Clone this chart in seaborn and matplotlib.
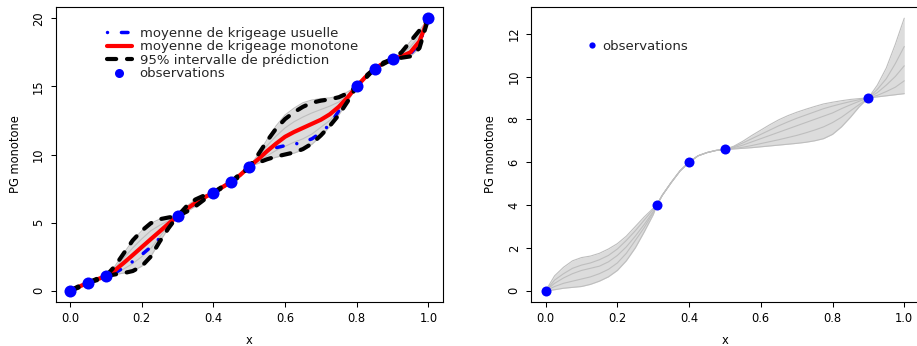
import seaborn as sns
import matplotlib
matplotlib.use("Agg")
import matplotlib.pyplot as plt
from matplotlib.lines import Line2D

sns.set_theme(style="ticks")
plt.rcParams['font.family'] = ['DejaVu Sans']

# ---- left panel : monotone kriging ----
x_left = [0.0, 0.025, 0.05, 0.075, 0.1, 0.125, 0.15, 0.175, 0.2, 0.225, 0.25, 0.275, 0.3, 0.325,
          0.35, 0.375, 0.4, 0.425, 0.45, 0.475, 0.5, 0.525, 0.55, 0.575, 0.6, 0.625, 0.65, 0.675,
          0.7, 0.725, 0.75, 0.775, 0.8, 0.825, 0.85, 0.875, 0.9, 0.925, 0.95, 0.975, 1.0]
mean_mono = [0.0, 0.3, 0.59, 0.83, 1.08, 1.5, 2.05, 2.62, 3.2, 3.78, 4.35, 4.93, 5.48, 6.0, 6.45,
             6.85, 7.2, 7.6, 8.0, 8.5, 9.1, 9.65, 10.25, 10.8, 11.3, 11.65, 11.95, 12.25, 12.55,
             12.95, 13.5, 14.2, 15.0, 15.7, 16.3, 16.7, 17.0, 17.2, 17.5, 18.3, 20.0]
mean_usual = [0.0, 0.3, 0.59, 0.83, 1.08, 1.3, 1.7, 2.15, 2.65, 3.2, 3.85, 4.65, 5.48, 5.98, 6.42,
              6.83, 7.2, 7.6, 8.0, 8.5, 9.1, 9.75, 10.2, 10.5, 10.65, 10.75, 10.9, 11.15, 11.6,
              12.2, 13.2, 14.2, 15.0, 15.7, 16.3, 16.7, 17.0, 17.15, 17.4, 18.1, 20.0]
upper = [0.0, 0.35, 0.59, 0.88, 1.08, 1.8, 2.75, 3.7, 4.4, 4.95, 5.25, 5.38, 5.48, 6.2, 6.7, 7.0,
         7.2, 7.65, 8.0, 8.6, 9.1, 10.0, 11.0, 11.9, 12.6, 13.1, 13.5, 13.8, 13.95, 14.05, 14.2,
         14.5, 15.0, 15.75, 16.3, 16.75, 17.0, 17.5, 18.3, 19.1, 20.0]
lower = [0.0, 0.25, 0.59, 0.78, 1.08, 1.2, 1.3, 1.45, 1.8, 2.5, 3.6, 4.6, 5.48, 5.8, 6.2, 6.7,
         7.2, 7.55, 8.0, 8.4, 9.1, 9.4, 9.65, 9.85, 10.0, 10.15, 10.4, 10.8, 11.4, 12.1, 12.9,
         13.9, 15.0, 15.6, 16.3, 16.65, 17.0, 17.1, 17.2, 17.8, 20.0]
# envelope and a few of the simulated sample paths (grey)
grey_hi = [0.0, 0.35, 0.59, 0.88, 1.08, 1.8, 2.75, 3.7, 4.4, 4.95, 5.25, 5.38, 5.48, 6.2, 6.7, 7.0,
           7.2, 7.65, 8.0, 8.6, 9.1, 10.0, 11.1, 12.1, 12.9, 13.4, 13.8, 14.0, 14.1, 14.15, 14.3,
           14.6, 15.0, 15.75, 16.3, 16.75, 17.0, 17.5, 18.3, 19.1, 20.0]
grey_lo = [0.0, 0.25, 0.59, 0.78, 1.08, 1.2, 1.3, 1.45, 1.8, 2.5, 3.6, 4.6, 5.48, 5.8, 6.2, 6.7,
           7.2, 7.55, 8.0, 8.4, 9.1, 9.35, 9.6, 9.8, 9.95, 10.1, 10.35, 10.75, 11.35, 12.05, 12.9,
           13.9, 15.0, 15.6, 16.3, 16.65, 17.0, 17.1, 17.2, 17.8, 20.0]
path_l1 = [0.0, 0.32, 0.59, 0.85, 1.08, 1.65, 2.4, 3.15, 3.8, 4.4, 4.8, 5.15, 5.48, 6.1, 6.55, 6.9,
           7.2, 7.6, 8.0, 8.55, 9.1, 9.85, 10.65, 11.35, 11.95, 12.4, 12.75, 13.05, 13.3, 13.55,
           13.85, 14.35, 15.0, 15.72, 16.3, 16.72, 17.0, 17.35, 17.9, 18.7, 20.0]
path_l2 = [0.0, 0.28, 0.59, 0.8, 1.08, 1.3, 1.6, 2.0, 2.5, 3.1, 3.95, 4.8, 5.48, 5.9, 6.3, 6.75,
           7.2, 7.58, 8.0, 8.45, 9.1, 9.5, 9.9, 10.3, 10.6, 10.9, 11.15, 11.5, 12.0, 12.5, 13.2,
           14.05, 15.0, 15.65, 16.3, 16.68, 17.0, 17.15, 17.35, 18.0, 20.0]
obs_x_left = [0.0, 0.05, 0.1, 0.3, 0.4, 0.45, 0.5, 0.8, 0.85, 0.9, 1.0]
obs_y_left = [0.0, 0.59, 1.08, 5.48, 7.2, 8.0, 9.1, 15.0, 16.3, 17.0, 20.0]

# ---- right panel : sample paths only ----
x_right = [0.0, 0.025, 0.05, 0.075, 0.1, 0.125, 0.15, 0.175, 0.2, 0.225, 0.25, 0.275, 0.3, 0.31,
           0.325, 0.35, 0.375, 0.4, 0.425, 0.45, 0.475, 0.5, 0.525, 0.55, 0.575, 0.6, 0.625, 0.65,
           0.675, 0.7, 0.725, 0.75, 0.775, 0.8, 0.825, 0.85, 0.875, 0.9, 0.925, 0.95, 0.975, 1.0]
r_hi = [0.0, 0.7, 1.1, 1.4, 1.55, 1.62, 1.75, 1.95, 2.2, 2.55, 3.0, 3.45, 3.85, 4.0, 4.45, 5.05,
        5.6, 6.0, 6.3, 6.45, 6.55, 6.6, 6.75, 6.98, 7.25, 7.5, 7.75, 7.98, 8.17, 8.33, 8.47, 8.6,
        8.72, 8.8, 8.87, 8.93, 8.97, 9.0, 9.6, 10.4, 11.5, 12.72]
r_lo = [0.0, 0.05, 0.12, 0.16, 0.2, 0.3, 0.45, 0.65, 0.95, 1.4, 2.0, 2.75, 3.55, 4.0, 4.45, 5.05,
        5.6, 6.0, 6.3, 6.45, 6.55, 6.6, 6.62, 6.65, 6.68, 6.72, 6.76, 6.8, 6.84, 6.88, 6.93, 7.0,
        7.1, 7.3, 7.65, 8.1, 8.6, 9.0, 9.05, 9.1, 9.15, 9.2]
path_r1 = [0.0, 0.5, 0.8, 1.05, 1.2, 1.3, 1.45, 1.65, 1.95, 2.35, 2.8, 3.3, 3.8, 4.0, 4.45, 5.05,
           5.6, 6.0, 6.3, 6.45, 6.55, 6.6, 6.72, 6.9, 7.1, 7.3, 7.5, 7.7, 7.88, 8.05, 8.2, 8.35,
           8.5, 8.62, 8.73, 8.83, 8.92, 9.0, 9.4, 9.9, 10.6, 11.4]
path_r2 = [0.0, 0.35, 0.6, 0.8, 0.95, 1.05, 1.15, 1.35, 1.65, 2.05, 2.55, 3.1, 3.7, 4.0, 4.45, 5.05,
           5.6, 6.0, 6.3, 6.45, 6.55, 6.6, 6.68, 6.8, 6.95, 7.1, 7.25, 7.4, 7.55, 7.7, 7.85, 8.0,
           8.15, 8.3, 8.5, 8.68, 8.85, 9.0, 9.25, 9.6, 10.0, 10.5]
path_r3 = [0.0, 0.2, 0.35, 0.45, 0.55, 0.65, 0.8, 1.0, 1.3, 1.75, 2.35, 2.95, 3.65, 4.0, 4.45, 5.05,
           5.6, 6.0, 6.3, 6.45, 6.55, 6.6, 6.64, 6.7, 6.78, 6.87, 6.96, 7.05, 7.15, 7.25, 7.37, 7.5,
           7.65, 7.85, 8.1, 8.4, 8.7, 9.0, 9.12, 9.3, 9.5, 9.8]
obs_x_right = [0.0, 0.31, 0.4, 0.5, 0.9]
obs_y_right = [0.0, 4.0, 6.0, 6.6, 9.0]

GREY = '#bebebe'
FILL = '#dcdcdc'

fig = plt.figure(figsize=(9.17, 3.46), dpi=100)
ax1 = fig.add_axes([55.7 / 917, 44.3 / 346, 387 / 917, 294.4 / 346])
ax2 = fig.add_axes([531.3 / 917, 44.3 / 346, 387.3 / 917, 294.4 / 346])

# left
ax1.fill_between(x_left, grey_lo, grey_hi, color=FILL, lw=0, zorder=1)
for p in [grey_hi, grey_lo, path_l1, path_l2]:
    sns.lineplot(x=x_left, y=p, ax=ax1, color=GREY, lw=0.8, sort=False, estimator=None, zorder=1.5)
sns.lineplot(x=x_left, y=mean_usual, ax=ax1, color='blue', lw=2.5, sort=False, estimator=None,
             linestyle=(0, (0.01, 4.0, 1.9, 4.0)), dash_capstyle='round', zorder=2)
sns.lineplot(x=x_left, y=mean_mono, ax=ax1, color='red', lw=3, sort=False, estimator=None, zorder=3)
for b in [upper, lower]:
    sns.lineplot(x=x_left, y=b, ax=ax1, color='black', lw=3, sort=False, estimator=None,
                 linestyle=(0, (2.2, 2.6)), dash_capstyle='round', zorder=4)
sns.scatterplot(x=obs_x_left, y=obs_y_left, ax=ax1, color='blue', s=75, linewidth=0, zorder=5)

handles = [
    Line2D([], [], color='blue', lw=2.5, linestyle=(0, (0.01, 4.0, 1.9, 4.0)), dash_capstyle='round'),
    Line2D([], [], color='red', lw=3),
    Line2D([], [], color='black', lw=3, linestyle=(0, (2.2, 2.6)), dash_capstyle='round'),
    Line2D([], [], color='blue', lw=0, marker='o', markersize=6.5, markeredgewidth=0),
]
labels = ['moyenne de krigeage usuelle', 'moyenne de krigeage monotone',
          '95% intervalle de prédiction', 'observations']
ax1.legend(handles, labels, loc='upper left', bbox_to_anchor=(107 / 917, 1 - 26.5 / 346),
           bbox_transform=fig.transFigure, frameon=False, fontsize=9.5, borderpad=0,
           borderaxespad=0, handlelength=1.88, handletextpad=0.6, labelspacing=0.05)

# right
ax2.fill_between(x_right, r_lo, r_hi, color=FILL, lw=0, zorder=1)
for p in [r_hi, r_lo, path_r1, path_r2, path_r3]:
    sns.lineplot(x=x_right, y=p, ax=ax2, color=GREY, lw=0.8, sort=False, estimator=None, zorder=1.5)
sns.scatterplot(x=obs_x_right, y=obs_y_right, ax=ax2, color='blue', s=52, linewidth=0, zorder=5)
ax2.legend([Line2D([], [], color='blue', lw=0, marker='o', markersize=4.5, markeredgewidth=0)],
           ['observations'], loc='upper left', bbox_to_anchor=(586.7 / 917, 1 - 40 / 346),
           bbox_transform=fig.transFigure, frameon=False, fontsize=9.5, borderpad=0,
           borderaxespad=0, handlelength=0.8, handletextpad=0.38)

for ax, ylim, yt in [(ax1, (-0.8, 20.8), [0, 5, 10, 15, 20]),
                     (ax2, (-0.509, 13.23), [0, 2, 4, 6, 8, 10, 12])]:
    ax.set_xlim(-0.04, 1.04)
    ax.set_ylim(*ylim)
    ax.set_xticks([0.0, 0.2, 0.4, 0.6, 0.8, 1.0])
    ax.set_xticklabels(['0.0', '0.2', '0.4', '0.6', '0.8', '1.0'])
    ax.set_yticks(yt)
    ax.set_yticklabels([str(v) for v in yt], rotation=90, va='center')
    ax.tick_params(direction='out', length=3.6, width=0.75, color='black', labelsize=8.3,
                   labelcolor='black')
    ax.tick_params(axis='x', pad=3.5)
    ax.tick_params(axis='y', pad=4)
    for s in ax.spines.values():
        s.set_visible(True)
        s.set_color('black')
        s.set_linewidth(0.8)
    ax.set_xlabel('x', fontsize=8.3, color='black')
    ax.set_ylabel('PG monotone', fontsize=8.3, color='black')
    ax.xaxis.set_label_coords(0.5, -0.11)
    ax.yaxis.set_label_coords(-0.088, 0.5)
    ax.set_facecolor('white')

fig.savefig('out.png', dpi=100, facecolor='white')
